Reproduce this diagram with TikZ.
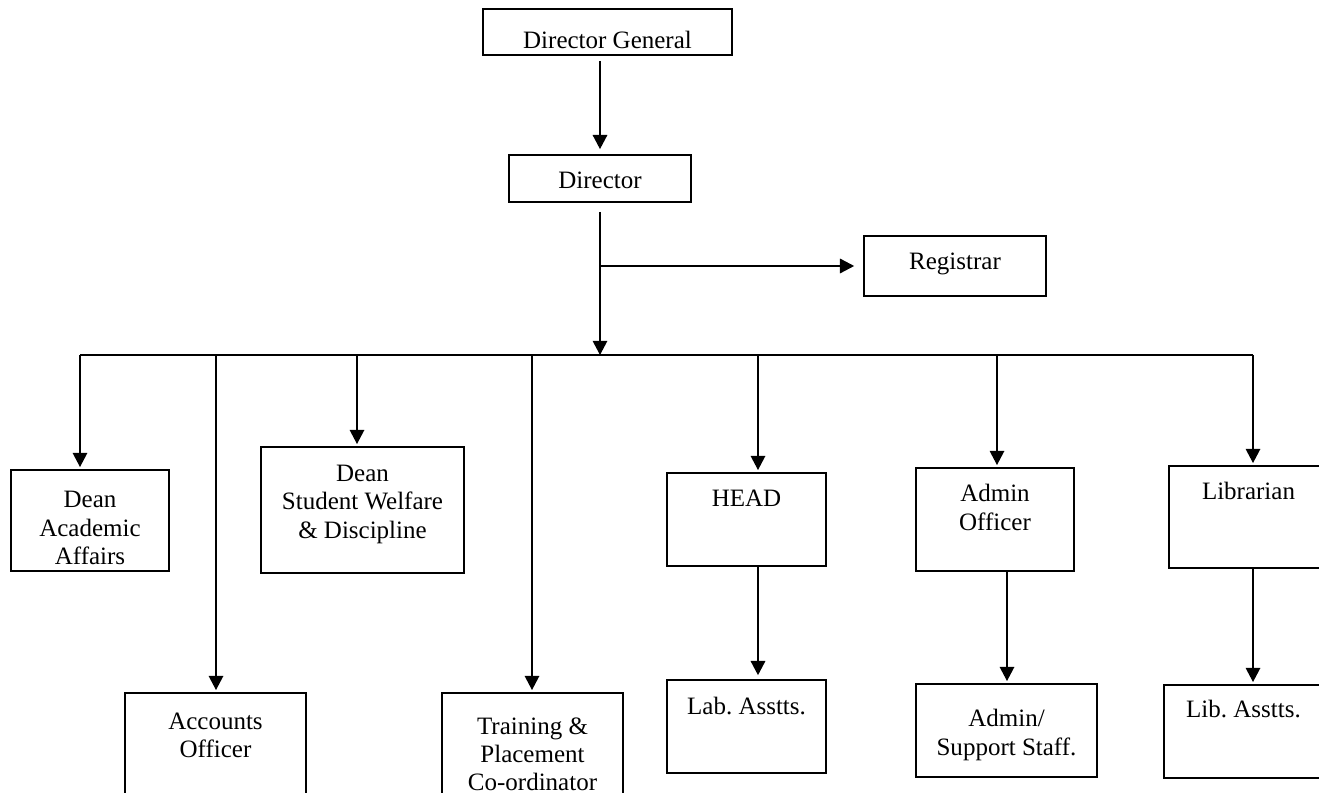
\documentclass[tikz,border=0pt]{standalone}
\usepackage{fontspec}
\setmainfont{Liberation Serif}
\usetikzlibrary{
        arrows.meta,
        fit,
        positioning
    }
\tikzset{>={Triangle[length=6.8pt,width=7pt]}}
\tikzset{box/.style={draw,line width=0.85pt,inner sep=0pt},
         txt/.style={inner sep=0pt,align=center,font=\fontsize{12pt}{13.5pt}\selectfont},
         link/.style={line width=0.65pt,shorten >=1pt}}

\begin{document}
\begin{tikzpicture}[x=0.48pt,y=-0.48pt]
    \clip (0,0) rectangle (1319,793);
    % boxes
    \node[box,fit={(483,9) (732,55)}]      (dg)   {};
    \node[box,fit={(509,155) (691,202)}]   (dir)  {};
    \node[box,fit={(864,236) (1046,296)}]  (reg)  {};
    \node[box,fit={(11,470) (169,571)}]    (daa)  {};
    \node[box,fit={(125,693) (306,812)}]   (acc)  {};
    \node[box,fit={(261,447) (464,573)}]   (dsw)  {};
    \node[box,fit={(442,693) (623,812)}]   (trn)  {};
    \node[box,fit={(667,473) (826,566)}]   (head) {};
    \node[box,fit={(667,680) (826,773)}]   (lab)  {};
    \node[box,fit={(916,468) (1074,571)}]  (ado)  {};
    \node[box,fit={(916,684) (1097,777)}]  (ads)  {};
    \node[box,fit={(1169,466) (1328,568)}] (lbr)  {};
    \node[box,fit={(1164,685) (1323,778)}] (lba)  {};
    % texts
    \node[txt,below=11pt of dg.north]     (dg-t)   {Director General};
    \node[txt,below=8.6pt of dir.north]   (dir-t)  {Director};
    \node[txt,below=8.2pt of reg.north]   (reg-t)  {Registrar};
    \node[txt,below=10.6pt of daa.north]  (daa-t)  {Dean\\Academic\\Affairs};
    \node[txt,below=9.6pt of acc.north]   (acc-t)  {Accounts\\Officer};
    \node[txt,below=9.1pt of dsw.north]   (dsw-t)  {Dean\\Student Welfare\\\& Discipline};
    \node[txt,below=12pt of trn.north]    (trn-t)  {Training \&\\Placement\\Co-ordinator};
    \node[txt,below=8.6pt of head.north]  (head-t) {HEAD};
    \node[txt,below=8.6pt of lab.north]   (lab-t)  {Lab.\ Asstts.};
    \node[txt,below=8.2pt of ado.north]   (ado-t)  {Admin\\Officer};
    \node[txt,below=12.5pt of ads.north]  (ads-t)  {Admin/\\Support Staff.};
    \node[txt,below=8.2pt of lbr.north]   (lbr-t)  {Librarian};
    \node[txt,below=7.7pt of lba.north]   (lba-t)  {Lib.\ Asstts.};
    % bus and branch points
    \coordinate (jtop)  at (600,355);
    \coordinate (jreg)  at (600,266);
    \coordinate (jdaa)  at (80,355);
    \coordinate (jacc)  at (216,355);
    \coordinate (jdsw)  at (357,355);
    \coordinate (jtrn)  at (532,355);
    \coordinate (jhead) at (758,355);
    \coordinate (jado)  at (997,355);
    \coordinate (jlbr)  at (1253,355);
    \coordinate (jads)  at (1007,620);
    % connectors
    \draw[link,->,shorten <=2.4pt,shorten >=2.4pt] (dir |- dg.south) -- (dir.north);
    \draw[link,->,shorten <=4.3pt,shorten >=0pt] (dir) -- (jtop);
    \draw[link,->,shorten >=4.3pt] (jreg) -- (reg);
    \draw[line width=0.65pt] (jdaa) -- (jlbr);
    \foreach \j/\b in {jdaa/daa,jacc/acc,jdsw/dsw,jtrn/trn,jhead/head,jado/ado,jlbr/lbr}
        \draw[link,->] (\j) -- (\j |- \b.north);
    \draw[link,->,shorten >=1.9pt] (jhead |- head.south) -- (jhead |- lab.north);
    \draw[link,->] (jads |- ado.south) -- (jads |- ads.north);
    \draw[link,->] (jlbr |- lbr.south) -- (jlbr |- lba.north);
\end{tikzpicture}
\end{document}
